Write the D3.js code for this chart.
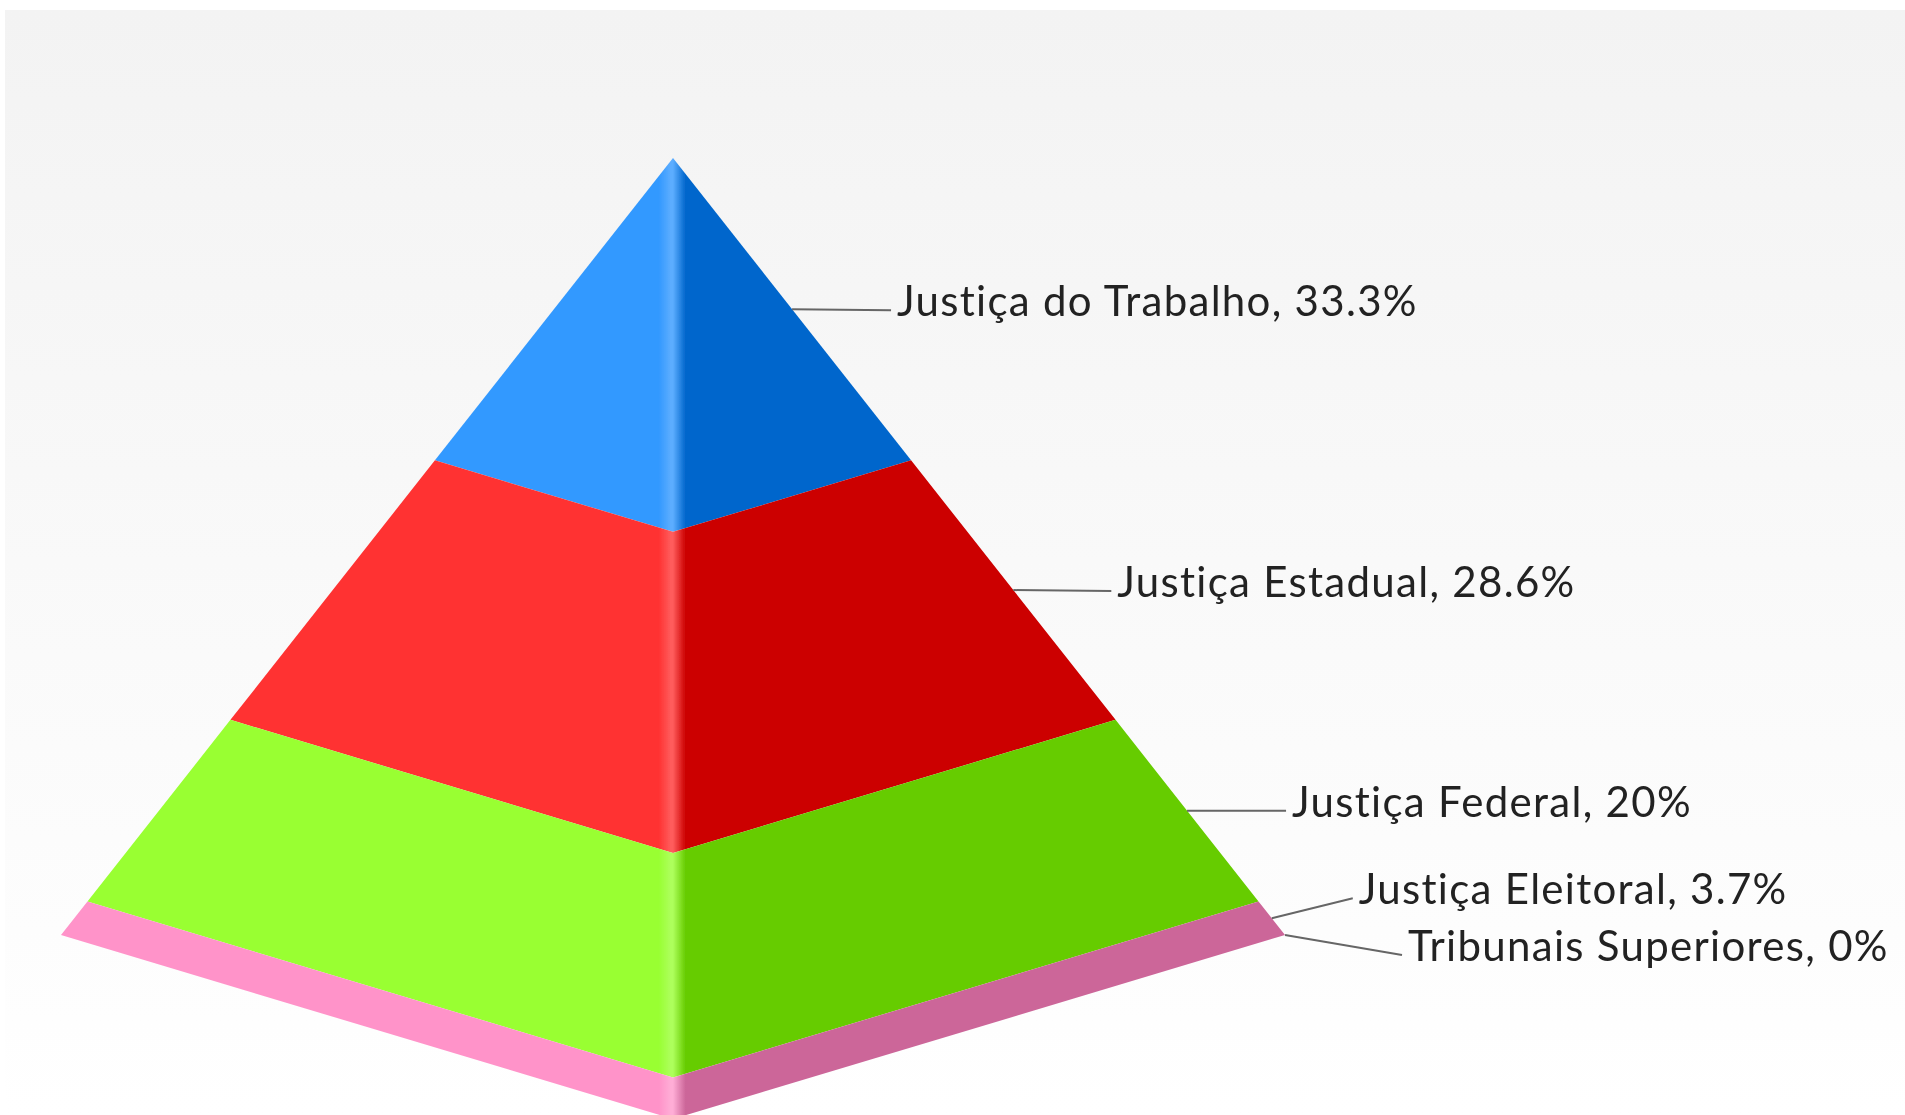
<!DOCTYPE html>
<html>
<head>
<meta charset="utf-8">
<script src="https://cdn.jsdelivr.net/npm/d3@7"></script>
<style>
  html, body { margin: 0; padding: 0; background: #fff; overflow: hidden; }
  .label { font-family: Lato, sans-serif; font-size: 42px; letter-spacing: 1.3px; fill: #222; }
</style>
</head>
<body>
<div id="chart"></div>
<script>
var categories = ["Justiça do Trabalho", "Justiça Estadual", "Justiça Federal", "Justiça Eleitoral", "Tribunais Superiores"];
var values = [33.3, 28.6, 20, 3.7, 0];

var leftColors = ["#3399ff", "#ff3333", "#99ff33", "#ff93c9", "#ffcc99"];
var rightColors = ["#0066cc", "#cc0000", "#66cc00", "#cc6699", "#cc9966"];
var ridgeColors = ["#5cadff", "#ff5c5c", "#adff5c", "#ffadd6", "#ffd6ad"];

// where each leader line ends, relative to the middle of the band's right edge
var leaderOffsets = [[99, 1], [98, 1], [99, 0], [81, -20], [117, 20]];

var svgWidth = 1905;
var svgHeight = 1115;
var ridgeX = 673;

var svg = d3.select("#chart")
  .append("svg")
  .attr("width", svgWidth)
  .attr("height", svgHeight)
  .style("display", "block");

var defs = svg.append("defs");

// background wash
var bg = defs.append("linearGradient")
  .attr("id", "bg")
  .attr("x1", 0).attr("y1", 0)
  .attr("x2", 0).attr("y2", 1);
bg.append("stop").attr("offset", "0").attr("stop-color", "#f3f3f3");
bg.append("stop").attr("offset", "1").attr("stop-color", "#ffffff");

// the reference is a soft scan, take the hard edge off everything
defs.append("filter")
  .attr("id", "soft")
  .attr("filterUnits", "userSpaceOnUse")
  .attr("x", 0).attr("y", 0)
  .attr("width", svgWidth).attr("height", svgHeight)
  .append("feGaussianBlur")
  .attr("stdDeviation", 0.6);

svg.append("rect")
  .attr("x", 5)
  .attr("y", 10)
  .attr("width", svgWidth - 5)
  .attr("height", svgHeight - 10)
  .attr("fill", "url(#bg)");

var chartGroup = svg.append("g").attr("filter", "url(#soft)");

// running total gives the top and bottom of each band
var total = d3.sum(values);
var bands = [];
var running = 0;
values.forEach(function(v, i) {
  bands.push({ name: categories[i], value: v, start: running, end: running + v, index: i });
  running += v;
});

var cornerY = d3.scaleLinear().domain([0, total]).range([158, 935]);
var ridgeY = d3.scaleLinear().domain([0, total]).range([158, 1119]);
var halfWidth = d3.scaleLinear().domain([0, total]).range([0, 612]);

var line = d3.line();

function bandPoints(d) {
  return [
    [ridgeX - halfWidth(d.start), cornerY(d.start)],
    [ridgeX, ridgeY(d.start)],
    [ridgeX + halfWidth(d.start), cornerY(d.start)],
    [ridgeX + halfWidth(d.end), cornerY(d.end)],
    [ridgeX, ridgeY(d.end)],
    [ridgeX - halfWidth(d.end), cornerY(d.end)]
  ];
}

// each band is one polygon, the two faces meet in a soft highlight on the ridge
bands.forEach(function(d) {
  var g = defs.append("linearGradient")
    .attr("id", "band" + d.index)
    .attr("gradientUnits", "userSpaceOnUse")
    .attr("x1", ridgeX - 14).attr("y1", 0)
    .attr("x2", ridgeX + 14).attr("y2", 0);
  g.append("stop").attr("offset", "0").attr("stop-color", leftColors[d.index]);
  g.append("stop").attr("offset", "0.42").attr("stop-color", ridgeColors[d.index]);
  g.append("stop").attr("offset", "0.5").attr("stop-color", ridgeColors[d.index]);
  g.append("stop").attr("offset", "0.95").attr("stop-color", rightColors[d.index]);
  g.append("stop").attr("offset", "1").attr("stop-color", rightColors[d.index]);
});

chartGroup.selectAll("path.band")
  .data(bands)
  .enter()
  .append("path")
  .attr("class", "band")
  .attr("d", d => line(bandPoints(d)) + "Z")
  .attr("fill", d => "url(#band" + d.index + ")");

// leader lines and labels
function anchor(d) {
  return [
    ridgeX + (halfWidth(d.start) + halfWidth(d.end)) / 2,
    (cornerY(d.start) + cornerY(d.end)) / 2
  ];
}

chartGroup.selectAll("line.leader")
  .data(bands)
  .enter()
  .append("line")
  .attr("class", "leader")
  .attr("x1", d => anchor(d)[0])
  .attr("y1", d => anchor(d)[1])
  .attr("x2", d => anchor(d)[0] + leaderOffsets[d.index][0])
  .attr("y2", d => anchor(d)[1] + leaderOffsets[d.index][1])
  .attr("stroke", "#666")
  .attr("stroke-width", 2);

chartGroup.selectAll("text.label")
  .data(bands)
  .enter()
  .append("text")
  .attr("class", "label")
  .attr("x", d => anchor(d)[0] + leaderOffsets[d.index][0] + 6)
  .attr("y", d => anchor(d)[1] + leaderOffsets[d.index][1] + 6)
  .text(d => d.name + ", " + d.value + "%");
</script>
</body>
</html>
